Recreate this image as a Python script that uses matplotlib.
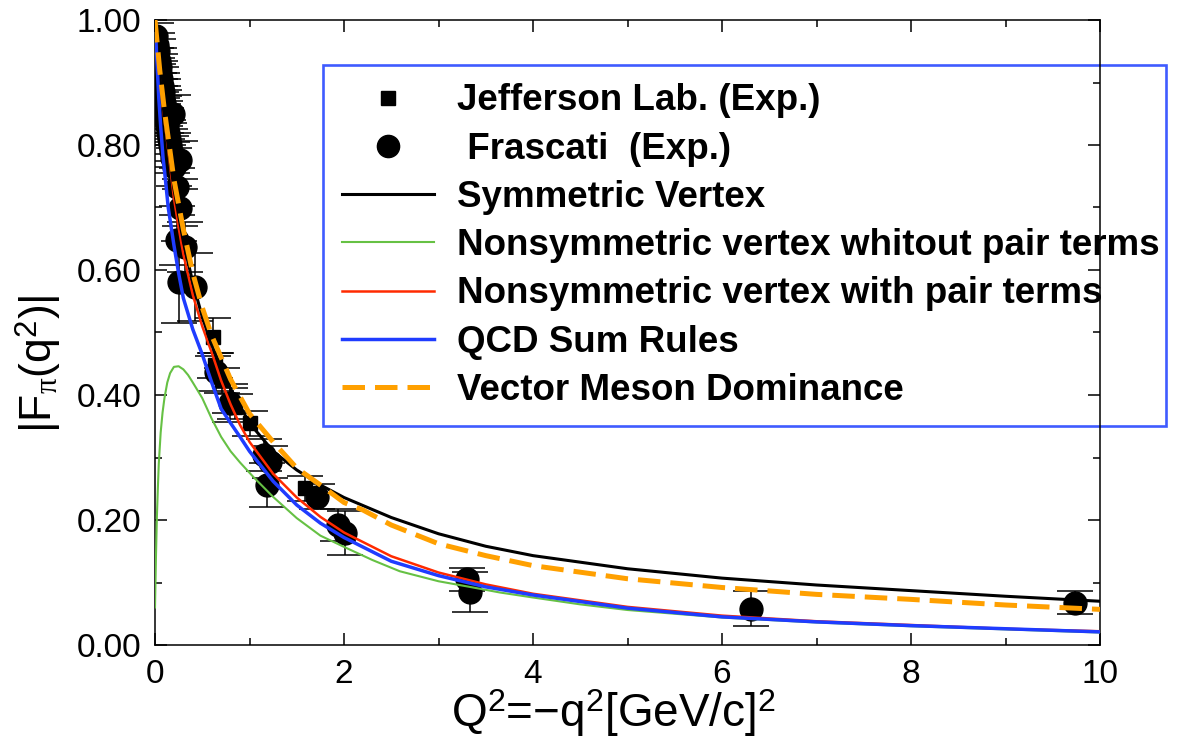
"""Pion electromagnetic form factor: data vs. model curves."""
import numpy as np
import matplotlib
matplotlib.use("Agg")
from matplotlib import pyplot as plt
from matplotlib.lines import Line2D
from matplotlib.legend_handler import HandlerLine2D
from matplotlib.ticker import MultipleLocator, FormatStrFormatter

plt.rcParams["font.family"] = ["Liberation Sans", "DejaVu Sans"]
plt.rcParams["mathtext.fontset"] = "custom"
plt.rcParams["mathtext.rm"] = "Liberation Sans"
plt.rcParams["mathtext.it"] = "Liberation Serif"

# Frascati data (circles)
fr_q2 = [0.015, 0.025, 0.035, 0.04, 0.05, 0.055, 0.065, 0.07, 0.08, 0.085,
         0.095, 0.10, 0.11, 0.12, 0.13, 0.14, 0.15, 0.16, 0.17, 0.19,
         0.185, 0.20, 0.265, 0.23, 0.265, 0.23, 0.317, 0.25, 0.42, 0.65,
         0.79, 1.15, 1.22, 1.18, 1.71, 1.94, 2.01, 3.30, 3.33, 6.31, 9.74]
fr_f = [0.975, 0.96, 0.95, 0.935, 0.925, 0.915, 0.905, 0.895, 0.885, 0.875,
        0.868, 0.858, 0.85, 0.84, 0.83, 0.82, 0.81, 0.80, 0.79, 0.85,
        0.78, 0.765, 0.776, 0.733, 0.70, 0.648, 0.637, 0.581, 0.573, 0.437,
        0.387, 0.304, 0.293, 0.256, 0.237, 0.192, 0.179, 0.105, 0.085, 0.058, 0.068]
fr_err = [0.02, 0.02, 0.02, 0.02, 0.02, 0.02, 0.02, 0.02, 0.02, 0.02,
          0.02, 0.02, 0.02, 0.02, 0.02, 0.02, 0.025, 0.025, 0.025, 0.03,
          0.025, 0.03, 0.03, 0.03, 0.03, 0.04, 0.04, 0.065, 0.055, 0.03,
          0.03, 0.025, 0.025, 0.035, 0.02, 0.025, 0.035, 0.018, 0.032, 0.028, 0.019]

# Jefferson Lab data (squares)
jl_q2 = [0.617, 0.635, 0.706, 0.79, 0.847, 1.0, 1.59]
jl_f = [0.493, 0.448, 0.424, 0.392, 0.381, 0.355, 0.251]
jl_err = [0.03, 0.02, 0.02, 0.02, 0.02, 0.02, 0.02]

# model curves
sym_q2 = [0, 0.05, 0.1, 0.2, 0.3, 0.4, 0.5, 0.6, 0.8, 1.0, 1.25, 1.5, 1.75, 2.0,
          2.5, 3, 3.5, 4, 5, 6, 7, 8, 9, 10]
sym_f = [1.0, 0.91, 0.845, 0.73, 0.645, 0.58, 0.525, 0.48, 0.41, 0.355, 0.31, 0.28,
         0.256, 0.236, 0.204, 0.178, 0.158, 0.143, 0.122, 0.107, 0.096, 0.087, 0.078, 0.070]

nopair_q2 = [0, 0.005, 0.01, 0.02, 0.03, 0.04, 0.06, 0.08, 0.1, 0.13, 0.16, 0.2, 0.25,
             0.3, 0.35, 0.4, 0.5, 0.6, 0.7, 0.8, 0.9, 1.04, 1.25, 1.5, 1.75, 2.0, 2.3,
             2.59, 3, 3.33, 3.65, 4, 4.5, 5, 6, 7, 8, 9, 10]
nopair_f = [0.06, 0.10, 0.14, 0.205, 0.25, 0.29, 0.34, 0.372, 0.395, 0.42, 0.435, 0.445,
            0.446, 0.441, 0.432, 0.42, 0.395, 0.362, 0.333, 0.31, 0.292, 0.269, 0.237,
            0.203, 0.175, 0.157, 0.136, 0.118, 0.102, 0.093, 0.084, 0.076, 0.065, 0.056,
            0.044, 0.036, 0.030, 0.025, 0.020]

pair_q2 = [0, 0.02, 0.04, 0.06, 0.08, 0.1, 0.14, 0.2, 0.25, 0.3, 0.4, 0.5, 0.6, 0.7,
           0.8, 0.9, 1.0, 1.25, 1.5, 1.75, 2.0, 2.5, 3, 3.5, 4, 5, 6, 7, 8, 9, 10]
pair_f = [1.0, 0.96, 0.925, 0.89, 0.865, 0.84, 0.792, 0.715, 0.668, 0.625, 0.56, 0.51,
          0.468, 0.423, 0.385, 0.352, 0.325, 0.274, 0.236, 0.205, 0.180, 0.142, 0.116,
          0.097, 0.082, 0.061, 0.047, 0.038, 0.032, 0.026, 0.022]

qcd_q2 = [0, 0.02, 0.04, 0.06, 0.085, 0.1, 0.14, 0.2, 0.25, 0.3, 0.4, 0.5, 0.6, 0.7,
          0.8, 0.9, 1.0, 1.25, 1.5, 1.75, 2.0, 2.5, 3, 3.5, 4, 5, 6, 7, 8, 9, 10]
qcd_f = [1.0, 0.935, 0.875, 0.83, 0.78, 0.76, 0.70, 0.64, 0.595, 0.555, 0.505, 0.465,
         0.42, 0.378, 0.355, 0.333, 0.31, 0.262, 0.224, 0.195, 0.172, 0.134, 0.111,
         0.093, 0.080, 0.059, 0.045, 0.037, 0.031, 0.026, 0.021]

vmd_q2 = [0, 0.05, 0.1, 0.2, 0.3, 0.4, 0.5, 0.6, 0.8, 1.0, 1.25, 1.5, 1.75, 2.0, 2.2,
          2.5, 3, 3.5, 4, 5, 6, 7, 8, 9, 10]
vmd_f = [1.0, 0.92, 0.855, 0.745, 0.665, 0.595, 0.54, 0.495, 0.425, 0.37, 0.325, 0.283,
         0.256, 0.228, 0.216, 0.192, 0.162, 0.143, 0.127, 0.106, 0.092, 0.081, 0.073,
         0.064, 0.057]

legend_labels = ["Jefferson Lab. (Exp.)", " Frascati  (Exp.)", "Symmetric Vertex",
                 "Nonsymmetric vertex whitout pair terms",
                 "Nonsymmetric vertex with pair terms",
                 "QCD Sum Rules", "Vector Meson Dominance"]


class HandlerMarkerRight(HandlerLine2D):
    """Put the legend marker at the right end of the handle."""

    def get_xdata(self, legend, xdescent, ydescent, width, height, fontsize):
        xdata = np.array([-xdescent, -xdescent + width])
        return xdata, np.array([-xdescent + width - 0.05 * fontsize])


fig = plt.figure(figsize=(12.02, 7.42), dpi=100)
ax = fig.add_axes([155 / 1202, 1 - 645 / 742, 945 / 1202, 625 / 742])

err_kw = dict(ecolor="black", elinewidth=1.1, capsize=13, capthick=1.1, ls="none", zorder=2)
ax.errorbar(fr_q2, fr_f, yerr=fr_err, fmt="o", color="black", ms=16.5, **err_kw)
ax.errorbar(jl_q2, jl_f, yerr=jl_err, fmt="s", color="black", ms=10, **err_kw)

ax.plot(nopair_q2, nopair_f, color="#66c144", lw=1.5, zorder=3)
ax.plot(pair_q2, pair_f, color="#ff2a00", lw=1.8, zorder=4)
ax.plot(sym_q2, sym_f, color="black", lw=2.2, zorder=4)
ax.plot(qcd_q2, qcd_f, color="#1f3cff", lw=2.5, zorder=5)
ax.plot(vmd_q2, vmd_f, color="#ffa000", lw=3.6, dashes=(4.5, 2), zorder=6)

ax.set_xlim(0, 10)
ax.set_ylim(0, 1)
ax.xaxis.set_major_locator(MultipleLocator(2))
ax.xaxis.set_minor_locator(MultipleLocator(1))
ax.yaxis.set_major_locator(MultipleLocator(0.2))
ax.yaxis.set_minor_locator(MultipleLocator(0.1))
ax.yaxis.set_major_formatter(FormatStrFormatter("%.2f"))
ax.tick_params(which="both", direction="in", top=True, right=True, width=1.1, labelsize=24)
ax.tick_params(which="major", length=8.5, pad=10)
ax.tick_params(which="minor", length=5)
for s in ax.spines.values():
    s.set_linewidth(1.1)

ax.set_xlabel("Q$^2$=$-$q$^2$[GeV/c]$^2$", fontsize=33)
ax.xaxis.set_label_coords(0.485, -0.068)
ax.set_ylabel(r"|F$_{\pi}$(q$^2$)|", fontsize=32)
ax.yaxis.set_label_coords(-0.097, 0.45)

handles = [
    Line2D([], [], ls="none", marker="s", color="black", ms=10),
    Line2D([], [], ls="none", marker="o", color="black", ms=16),
    Line2D([], [], color="black", lw=2.2),
    Line2D([], [], color="#66c144", lw=1.5),
    Line2D([], [], color="#ff2a00", lw=1.8),
    Line2D([], [], color="#1f3cff", lw=2.5),
    Line2D([], [], color="#ffa000", lw=3.6, dashes=(4.5, 2)),
]
leg = ax.legend(handles, legend_labels, loc="upper left",
                bbox_to_anchor=(0.178, 0.355, 0.892, 0.573), mode="expand",
                prop={"weight": "bold", "size": 26.5}, frameon=True, fancybox=False,
                handlelength=2.5, handletextpad=0.63, labelspacing=0.36, borderpad=0.5,
                borderaxespad=0, handler_map={Line2D: HandlerMarkerRight()})
leg.get_frame().set_edgecolor("#0f32ff")
leg.get_frame().set_linewidth(1.9)
leg.get_frame().set_facecolor("none")
leg.set_zorder(1)

fig.savefig("out.png", dpi=100)
